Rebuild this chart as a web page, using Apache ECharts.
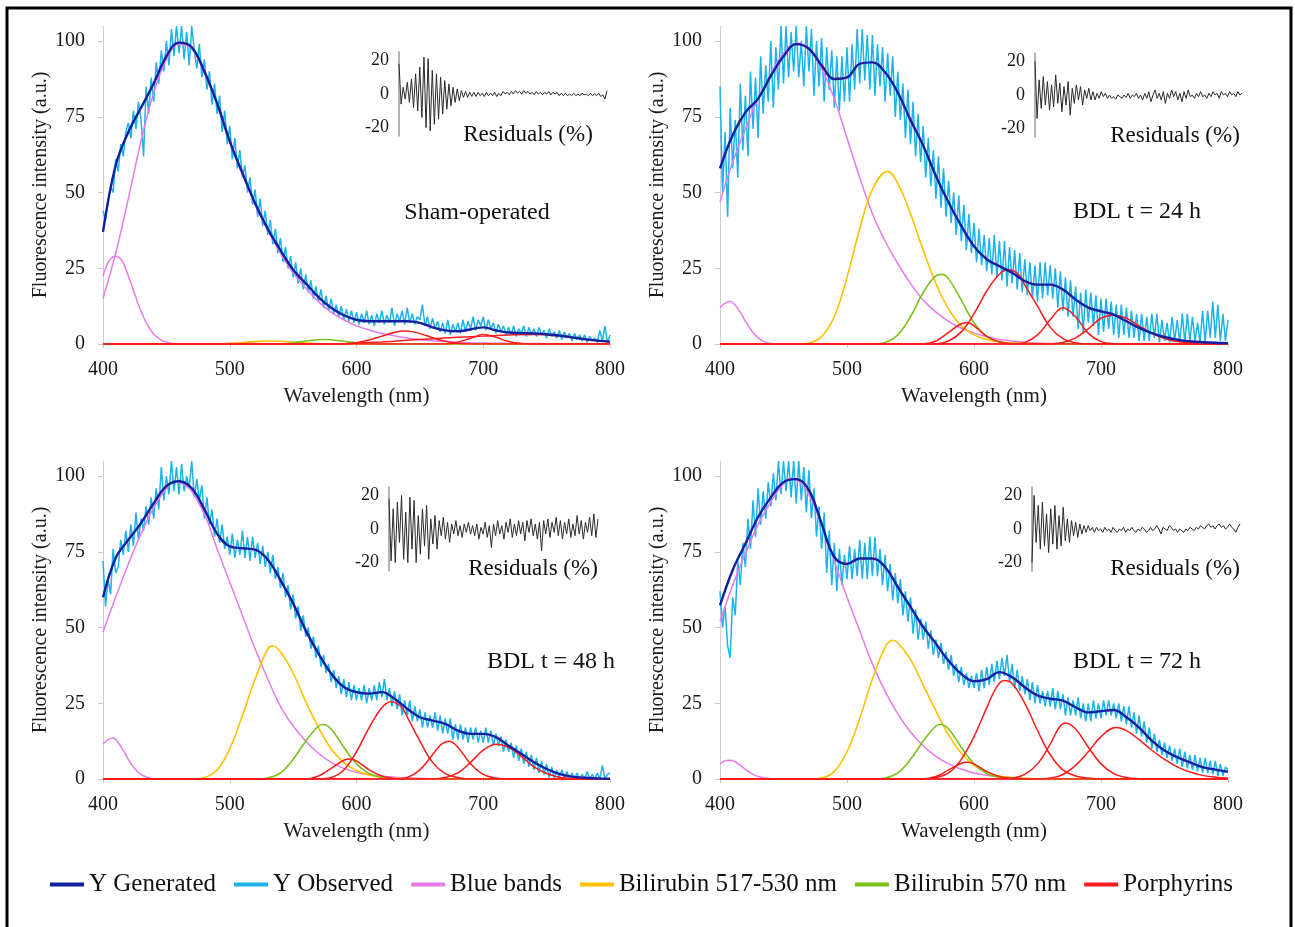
<!DOCTYPE html>
<html>
<head>
<meta charset="utf-8">
<script src="https://cdn.jsdelivr.net/npm/echarts@6/dist/echarts.min.js"></script>
<style>
  html, body { margin: 0; padding: 0; background: #fff; }
  #chart { width: 1295px; height: 927px; }
</style>
</head>
<body>
<div id="chart"></div>
<script>
// wavelength grids (nm): observed every 2 nm, residuals every 4 nm, fitted curve every 10 nm
var wl2 = [];
for (var w0 = 400; w0 <= 800; w0 += 2) wl2.push(w0);
var wl4 = [];
for (var w = 400; w <= 800; w += 4) wl4.push(w);
var wl10 = [];
for (var w2 = 400; w2 <= 800; w2 += 10) wl10.push(w2);

var panelLabels = ['Sham-operated', 'BDL t = 24 h', 'BDL t = 48 h', 'BDL t = 72 h'];
var legendNames = ['Y Generated', 'Y Observed', 'Blue bands', 'Bilirubin 517-530 nm', 'Bilirubin 570 nm', 'Porphyrins'];
var residualTicks = [-20, 0, 20];

// ---------- Sham-operated ----------
var genSham = [37,59,70,78,86,95,99.5,98,90,79.5,67,56.5,46.5,38,31,24.5,20,15.5,12,9.5,8,7.5,7.5,7.5,7.5,7,5.5,4.5,4.2,4.8,5.5,4.5,3.8,3.6,3.5,3.2,2.8,2.2,1.6,1.1,0.8];
var obsSham = [
  44,41,47,52,50,61,57,66,62,70,
  73,68,77,71,80,74,62,85,76,88,
  80,93,86,97,90,100,92,104,95,105,
  96,105,94,103,92,105,97,91,99,88,
  94,84,90,79,86,76,82,70,77,66,
  72,61,68,58,64,55,59,50,55,46,
  51,42,48,39,44,36,41,33,38,30,
  35,27,32,25,29,22,27,20,25,18,
  23,17,21,15,19,14,18,12,16,11,
  15,10,13,9,12.5,8,11.5,7.5,11,7,
  10.5,6.5,10,7,11,6.5,9.5,6,10,7,
  11,6.5,9.5,7,12,6,10,7.5,11,6.5,
  12,7,10,6.5,9,8,13,6,9,5,
  8.5,5,7.5,4,7,3.5,8,3,6.5,4,
  7,3.5,8,4,7.5,5,9,4.5,8,6,
  9,4.5,8,5,7,3.5,6.5,4,6,3,
  5.5,3,6,2.5,5,3.5,6,2.5,5.5,3,
  5,2.5,5.5,3,4.5,2,5,2.5,4,2,
  4.5,1.5,4,2,3.5,1,3.5,1.5,3,1,
  3,0.5,2.5,1,2,0.5,4.5,1,6,0.5,
  3];
var resSham = [18,-6,4,-3,7,-5,9,-8,12,-10,16,-14,22,-20,21,-22,14,-18,12,-15,10,-12,8,-9,6,-7,4,-5,3,-4,2,-2,1.5,-2,1,-1.5,1,-1.5,1,-1,0.5,-1.5,1,-1,0.5,-1,1,-1.5,0.5,-1,1.5,0,1,-0.5,1.5,0,2,0.5,1.5,0,2,0.5,1.5,0,1,-0.5,1.5,0,1,-0.5,1,0,1.5,-0.5,1,0,1,-1,0.5,-1,0.5,-1,0,-1,0.5,-1,0,-1,0.5,-0.5,0,-1,0.5,-1,0,-1,0.5,-1.5,-0.5,-3,2];
var blueSham = [
  [[400,15],[410,30],[420,48],[430,67],[440,83],[450,94],[460,99],[470,97.5],[480,89.5],[490,79],[500,66.5],[510,56],[520,46],[530,37.5],[540,30],[550,23.5],[560,18.5],[570,14],[580,10.5],[590,8],[600,6],[610,4.6],[620,3.5],[630,2.7],[640,2],[650,1.5],[660,1.1],[670,0.8],[680,0.6],[700,0.3],[720,0.2],[760,0.1],[800,0]],
  [[400,22.4],[405,27.5],[410,29],[415,27.5],[420,22.4],[425,16.5],[430,10.8],[435,6.3],[440,3.3],[445,1.5],[450,0.6],[455,0.2],[460,0],[800,0]]
];
var bili530Sham = [[400,0],[490,0],[500,0.2],[510,0.5],[520,0.8],[530,1],[540,0.9],[550,0.6],[560,0.3],[570,0.1],[580,0],[800,0]];
var bili570Sham = [[400,0],[540,0],[550,0.4],[560,1],[570,1.4],[575,1.5],[580,1.4],[590,0.9],[600,0.4],[610,0.1],[620,0],[800,0]];
var porphSham = [
  [[400,0],[590,0],[600,0.4],[610,1.3],[620,2.6],[630,3.8],[637,4.3],[645,4],[655,2.8],[665,1.4],[675,0.5],[685,0.1],[695,0],[800,0]],
  [[400,0],[670,0],[680,0.6],[690,1.9],[700,3.1],[710,2.2],[720,0.8],[730,0.2],[740,0],[800,0]],
  [[400,0],[580,0],[600,0.3],[620,0.7],[640,1.2],[660,1.7],[680,2.2],[700,2.6],[720,3],[740,3.1],[760,2.6],[780,1.6],[800,0.7]]
];

// ---------- BDL 24 h ----------
var gen24 = [58,69,76.5,81,88.5,95,99,97.5,92,87.5,88,92.5,93,89.7,83,74,65.5,55.5,46.7,39,32.3,28,25.7,23.5,20.8,19.6,19.6,18,14.7,12,10.8,9.7,7.5,5.3,3.6,2.3,1.4,0.9,0.6,0.4,0.3];
var obs24 = [
  85,50,70,42,78,58,74,55,86,64,
  82,62,90,71,88,68,95,76,92,80,
  100,78,98,84,105,86,105,88,103,90,
  105,88,100,85,105,90,104,82,100,85,
  101,80,98,84,97,78,95,77,95,80,
  98,80,99,84,104,86,104,87,102,84,
  102,82,99,85,98,80,96,82,95,75,
  90,74,86,68,84,66,80,62,76,60,
  72,55,68,52,64,48,62,45,58,42,
  54,40,50,36,49,34,46,31,43,30,
  40,27,38,26,36,24,35,23,36,22,
  34,21,34,19,32,20,31,18,30,17,
  28,16,27,15,26,14,27,15,27,16,
  26,15,25,12,24,11,22,9,21,9,
  19,5,17,4,18,7,17,6,16,3,
  15,4,15,5,14,3,13,2,13,3,
  12,2,11,2,10,1,10,1,9,1,
  10,2,10,0.5,8,1,7,0.5,9,1,
  8,0.5,10,0.5,10,1,9,1,7,0.5,
  11,0.5,11,2,14,2,13,1,10,1,
  8];
var res24 = [20,-14,9,-8,11,-6,8,-9,6,-7,12,-5,7,-10,5,-6,8,-12,4,-5,6,-3,5,-6,3,-2,4,-3,2,-3,1,-2,2,-1,1,-2,0,-2,-1,-2.5,0,-1,-2,0,-1.5,1,-2,0,-1,1,-2,0,-3,1,-2,2,-4,0,3,-2,1,-3,2,-5,1,-2,3,-1,2,-3,1,-4,2,-2,3,-1,0,-2,1,-1,2,-1,0,-2,1,-1,2,0,1,-2,2,0,1,-1,2,0,1,-1,2,0,1];
var blue24 = [
  [[400,47],[410,60],[420,71],[430,81],[440,89],[450,96],[460,99.3],[470,97.5],[480,91],[490,81],[500,68],[510,55],[520,43],[530,34],[540,26.5],[550,20],[560,14.5],[570,10.5],[580,7.5],[590,5.2],[600,3.6],[610,2.4],[620,1.5],[630,1],[640,0.6],[660,0.2],[680,0],[800,0]],
  [[400,12],[404,13.5],[408,14],[412,12.8],[416,10.5],[420,7.5],[425,4.3],[430,2],[435,0.7],[440,0.2],[450,0],[800,0]]
];
var bili530h24 = [[400,0],[460,0],[470,0.3],[480,2.5],[490,9],[500,22],[510,38],[520,51],[532,57],[540,53],[550,43],[560,31],[570,20],[580,11.5],[590,6],[600,3],[610,1.5],[620,0.7],[640,0.2],[660,0],[800,0]];
var bili570h24 = [[400,0],[520,0],[530,0.5],[540,3],[550,9],[560,17],[570,22.5],[575,23],[580,21.5],[590,14.5],[600,7],[610,2.5],[620,0.7],[630,0.1],[640,0],[800,0]];
var porph24 = [
  [[400,0],[560,0],[570,1],[580,3.8],[590,6.7],[595,7],[600,6],[610,2.5],[620,0.7],[630,0.1],[640,0],[800,0]],
  [[400,0],[570,0],[580,1],[590,4],[600,10],[610,17.5],[620,23],[627,24.6],[635,23],[640,19.5],[650,12.5],[660,5.5],[670,1.8],[680,0.4],[690,0],[800,0]],
  [[400,0],[630,0],[640,0.5],[650,3],[660,8],[670,12],[680,9],[690,3.5],[700,0.8],[710,0.1],[720,0],[800,0]],
  [[400,0],[660,0],[670,0.5],[680,2],[690,5],[700,8.5],[710,9.5],[720,8.5],[730,6],[740,3.5],[750,1.8],[760,0.8],[780,0.2],[800,0]]
];

// ---------- BDL 48 h ----------
var gen48 = [60,73,79,84.5,91,96.7,98.3,96,89,81,76.8,76.2,75.7,72.4,65.7,58,49,41.4,34.8,30.4,28.7,28.2,28.7,26.5,23.2,20.4,19.3,18.2,16,14.9,14.9,13.8,11,8.3,5.5,3.3,1.7,0.8,0.4,0.2,0.1];
var obs48 = [
  72,57,66,61,76,68,70,79,74,82,
  75,84,77,88,79,86,82,90,84,93,
  86,96,89,103,92,100,94,105,95,103,
  94,104,95,100,96,105,93,99,92,97,
  86,93,84,89,80,86,78,84,76,80,
  74,81,73,79,74,82,73,80,72,80,
  73,78,71,77,70,75,68,74,66,70,
  63,68,60,64,56,61,53,57,49,54,
  47,50,43,47,40,44,37,41,35,38,
  32,36,30,34,28,33,27,32,26,31,
  26,30,26,31,25,30,26,31,26,32,
  27,33,26,30,24,29,23,28,21,26,
  21,26,19,24,19,23,17,22,17,21,
  17,22,16,21,15,20,15,20,13,18,
  13,18,13,17,12,17,13,17,12,16,
  12,17,12,16,11,15,11,14,9,13,
  9,12,7,11,6,10,5,9,4,8,
  3,7,2,6,1.5,5,0.5,4,0,3,
  0.5,3,0,2.5,0,2,0,2,0,1.5,
  0,2.5,0,1.5,0,2,0,4.5,0,1.5,
  2];
var res48 = [18,-19,12,-20,16,-8,20,-18,10,-20,19,-12,17,-20,8,-15,12,-10,14,-18,6,-9,8,-12,5,-4,7,-6,4,-8,3,-3,5,-4,2,-5,3,-2,4,-3,2,-4,3,-6,1,-3,4,-5,2,-11,3,-4,5,-3,2,-6,4,-2,6,-5,3,-4,5,-3,4,-7,5,-2,6,-4,3,-6,4,-13,5,-3,6,-5,4,-2,7,-4,5,-6,4,-3,6,-5,3,-4,8,-3,5,-6,4,-2,7,-4,9,-5,6];
var blue48 = [
  [[400,48.5],[410,60],[420,71],[430,81],[440,89.5],[450,96],[457,98.2],[465,97],[470,95],[480,87.5],[490,76],[500,65],[510,54],[520,43],[530,33],[540,24],[550,17.5],[560,12.5],[570,8.5],[580,5.5],[590,3.5],[600,2.2],[610,1.4],[620,0.9],[640,0.3],[660,0.1],[680,0],[800,0]],
  [[400,11.5],[404,13],[408,13.5],[412,12],[416,9.5],[420,6.5],[425,3.5],[430,1.5],[435,0.5],[440,0.1],[450,0],[800,0]]
];
var bili530h48 = [[400,0],[470,0],[480,0.5],[490,3],[500,10],[510,21],[520,33],[530,43],[534,44],[540,42],[550,35],[560,25.5],[570,17],[580,10],[590,5.5],[600,2.8],[610,1.3],[620,0.6],[640,0.1],[660,0],[800,0]];
var bili570h48 = [[400,0],[520,0],[530,0.3],[540,2],[550,6.5],[560,12.5],[570,17.5],[574,18],[580,16.5],[590,10.5],[600,5],[610,1.8],[620,0.5],[630,0.1],[640,0],[800,0]];
var porph48 = [
  [[400,0],[560,0],[570,1],[580,3.5],[590,6.2],[595,6.6],[600,6],[610,3],[620,1],[630,0.2],[640,0],[800,0]],
  [[400,0],[570,0],[580,0.5],[590,3],[600,9],[610,17],[620,23.5],[627,25.5],[635,24],[640,20.5],[650,12.5],[660,5.5],[670,1.8],[680,0.5],[690,0],[800,0]],
  [[400,0],[630,0],[640,0.5],[650,3],[660,8],[667,11.5],[673,12.5],[680,10.5],[690,5],[700,1.5],[710,0.3],[720,0],[800,0]],
  [[400,0],[660,0],[670,0.5],[680,2],[690,5.5],[700,9.5],[710,11.5],[720,10.5],[730,7.5],[740,4],[750,1.8],[760,0.6],[770,0.2],[780,0],[800,0]]
];

// ---------- BDL 72 h ----------
var gen72 = [57.3,69,77.7,86.5,93,98,99,95.4,84.3,73.3,71,72.8,72.8,70,63.4,56.8,50.2,44.7,39,34.7,32.3,33,35.3,33.6,30.3,27.6,26.5,25.9,23.7,22,22.4,22.8,20.4,17,12.7,9.4,7.2,5.5,3.9,3.1,2.4];
var obs72 = [
  62,50,57,44,40,60,54,72,64,78,
  70,86,76,92,80,96,84,95,86,98,
  90,101,92,105,94,105,95,105,93,105,
  91,105,92,103,88,102,86,96,80,90,
  76,88,68,82,64,78,62,76,64,74,
  66,77,66,76,67,79,66,78,66,80,
  67,80,67,76,64,74,62,71,59,68,
  58,66,54,62,52,60,48,56,46,53,
  46,52,43,49,41,46,40,45,38,42,
  36,41,34,38,32,37,31,35,30,34,
  30,35,29,36,30,37,31,38,32,39,
  33,40,34,41,32,38,30,36,29,34,
  28,33,26,32,25,31,25,29,24,29,
  24,30,23,29,23,28,21,27,21,26,
  21,27,20,25,19,25,19,26,20,25,
  20,26,21,26,21,25,20,25,19,24,
  18,24,17,22,15,21,14,19,12,17,
  10,15,9,13,8,12,7,11,6,10,
  5,10,4,9,3.5,8,3,8,2.5,7,
  2,7,2,6,1.5,6,1,5,1,4,
  3];
var res72 = [-20,20,-8,14,-12,16,-10,9,-14,12,-9,14,-12,8,-10,13,-7,6,-8,5,-4,4,-5,3,-3,2,-2,2,-1,1,-2,1,-1,0,-2,1,-1,0,-2,1,-1,-2,0,-1,1,-2,0,-1,1,-1,-2,0,-1,1,0,-2,-1,1,-1,0,2,0,-3,1,0,-1,2,1,-1,0,-2,0,-1,-2,0,-1,1,0,-1,1,0,2,1,0,2,3,1,2,0,2,3,1,2,0,1,3,1,0,-2,1,3];
var blue72 = [
  [[400,52],[410,64],[420,74.5],[430,84],[440,91.5],[450,97.5],[456,99.3],[460,99],[470,94],[480,84],[490,72],[500,60],[510,49],[520,38],[530,29],[540,21.5],[550,15.5],[560,11],[570,7.5],[580,5],[590,3.2],[600,2],[610,1.2],[620,0.7],[640,0.2],[660,0],[800,0]],
  [[400,5],[404,6],[408,6.2],[412,5.7],[416,4.5],[420,3.2],[425,1.8],[430,0.8],[435,0.3],[440,0.1],[450,0],[800,0]]
];
var bili530h72 = [[400,0],[470,0],[480,0.3],[490,2.5],[500,9],[510,20],[520,33],[530,43.5],[536,45.8],[540,45],[550,39.5],[560,31],[570,22.5],[580,14.5],[590,8.5],[600,4.5],[610,2.2],[620,1],[640,0.2],[660,0],[800,0]];
var bili570h72 = [[400,0],[520,0],[530,0.3],[540,2],[550,6.5],[560,12.5],[570,17.5],[574,18],[580,16.5],[590,10.5],[600,5],[610,1.8],[620,0.5],[630,0.1],[640,0],[800,0]];
var porph72 = [
  [[400,0],[560,0],[570,0.8],[580,3],[590,5.2],[594,5.5],[600,5],[610,2.5],[620,0.8],[630,0.2],[640,0],[800,0]],
  [[400,0],[560,0],[570,0.5],[580,2],[590,6.5],[600,14],[610,23.5],[618,30.5],[624,32.5],[630,31.5],[640,25],[650,16],[660,8],[670,3],[680,1],[690,0.3],[700,0],[800,0]],
  [[400,0],[620,0],[630,0.3],[640,1.5],[650,5],[660,11.5],[667,17],[672,18.5],[680,16.5],[690,10.5],[700,5],[710,1.8],[720,0.5],[730,0.1],[740,0],[800,0]],
  [[400,0],[650,0],[660,0.3],[670,1.5],[680,4.5],[690,9],[700,14],[712,17],[720,16],[730,13],[740,9.5],[750,6.5],[760,4],[770,2.3],[780,1.2],[790,0.6],[800,0.3]]
];

// colours
var cGen = '#1020a0', cObs = '#1cb2ea', cBlue = '#e57be9', cB530 = '#ffc000', cB570 = '#7bc11e', cPor = '#ff1a1a';
var FONT = "'Liberation Serif', serif";

var panels = [
  { gen: genSham, obs: obsSham, res: resSham, blue: blueSham, b530: bili530Sham, b570: bili570Sham, por: porphSham },
  { gen: gen24, obs: obs24, res: res24, blue: blue24, b530: bili530h24, b570: bili570h24, por: porph24 },
  { gen: gen48, obs: obs48, res: res48, blue: blue48, b530: bili530h48, b570: bili570h48, por: porph48 },
  { gen: gen72, obs: obs72, res: res72, blue: blue72, b530: bili530h72, b570: bili570h72, por: porph72 }
];

// layout of the 4 main plots and 4 residual insets
var mainBoxes = [
  { left: 103, top: 26, width: 507, height: 318 },
  { left: 720, top: 26, width: 508, height: 318 },
  { left: 103, top: 461, width: 507, height: 318 },
  { left: 720, top: 461, width: 508, height: 318 }
];
var insetBoxes = [
  { left: 399, top: 52, width: 208, height: 84 },
  { left: 1035, top: 53, width: 207, height: 84 },
  { left: 389, top: 487, width: 209, height: 84 },
  { left: 1032, top: 487, width: 208, height: 84 }
];
var labelPos = [[477, 213], [1137, 212], [551, 662], [1137, 662]];
var resLabelPos = [[528, 135], [1175, 136], [533, 569], [1175, 569]];

var grid = [], xAxis = [], yAxis = [], series = [], graphic = [];

function zip(xs, ys) {
  return ys.map(function (v, i) { return [xs[i], v]; });
}
function line(name, data, color, width, idx, z, smooth) {
  return {
    name: name, type: 'line', data: data, xAxisIndex: idx, yAxisIndex: idx,
    showSymbol: false, symbol: 'none', smooth: smooth, z: z, silent: true,
    lineStyle: { color: color, width: width }, itemStyle: { color: color }
  };
}

mainBoxes.forEach(function (b, i) {
  grid.push(b);
  xAxis.push({
    type: 'value', gridIndex: i, min: 400, max: 800, interval: 100,
    name: 'Wavelength (nm)', nameLocation: 'middle', nameGap: 42,
    nameTextStyle: { fontFamily: FONT, fontSize: 21, color: '#1a1a1a' },
    axisLine: { show: true, lineStyle: { color: '#d0d0d0', width: 1 } },
    axisTick: { show: true, length: 4, lineStyle: { color: '#c8c8c8' } },
    axisLabel: { fontFamily: FONT, fontSize: 20, color: '#1a1a1a', margin: 16 },
    splitLine: { show: false }
  });
  yAxis.push({
    type: 'value', gridIndex: i, min: 0, max: 105, interval: 25,
    name: 'Fluorescence intensity (a.u.)', nameLocation: 'middle', nameGap: 51, nameRotate: 90,
    nameTextStyle: { fontFamily: FONT, fontSize: 20, color: '#1a1a1a' },
    axisLine: { show: true, lineStyle: { color: '#d0d0d0', width: 1 } },
    axisTick: { show: true, length: 5, lineStyle: { color: '#c8c8c8' } },
    axisLabel: { fontFamily: FONT, fontSize: 20, color: '#1a1a1a', margin: 18, showMaxLabel: false },
    splitLine: { show: false }
  });
});

insetBoxes.forEach(function (b, i) {
  grid.push(b);
  xAxis.push({
    type: 'value', gridIndex: 4 + i, min: 400, max: 800, show: false
  });
  yAxis.push({
    type: 'value', gridIndex: 4 + i, min: -25, max: 25, interval: 5,
    axisLine: { show: true, lineStyle: { color: '#999', width: 1.5 } },
    axisTick: { show: false },
    splitLine: { show: false },
    axisLabel: {
      fontFamily: FONT, fontSize: 18, color: '#1a1a1a', margin: 10,
      formatter: function (v) { return residualTicks.indexOf(v) >= 0 ? String(v) : ''; }
    }
  });
});

panels.forEach(function (p, i) {
  series.push(line('Y Observed', zip(wl2, p.obs), cObs, 1.5, i, 2, false));
  p.blue.forEach(function (d) { series.push(line('Blue bands', d, cBlue, 1.5, i, 3, 0.4)); });
  series.push(line('Bilirubin 517-530 nm', p.b530, cB530, 1.6, i, 3, 0.4));
  series.push(line('Bilirubin 570 nm', p.b570, cB570, 1.6, i, 3, 0.4));
  p.por.forEach(function (d) { series.push(line('Porphyrins', d, cPor, 1.5, i, 3, 0.4)); });
  series.push(line('Y Generated', zip(wl10, p.gen), cGen, 2.4, i, 4, 0.4));
  series.push(line('residuals', zip(wl4, p.res), '#2a2a2a', 1, 4 + i, 3, false));

  graphic.push({
    type: 'text', x: labelPos[i][0], y: labelPos[i][1], silent: true,
    style: { text: panelLabels[i], font: '24px ' + FONT, fill: '#111', textAlign: 'center', textVerticalAlign: 'middle', align: 'center', verticalAlign: 'middle' }
  });
  graphic.push({
    type: 'text', x: resLabelPos[i][0], y: resLabelPos[i][1], silent: true,
    style: { text: 'Residuals (%)', font: '23px ' + FONT, fill: '#111', textAlign: 'center', textVerticalAlign: 'middle', align: 'center', verticalAlign: 'middle' }
  });
});

// outer frame
graphic.push({
  type: 'rect', silent: true, z: 100,
  shape: { x: 7, y: 8, width: 1284, height: 940 },
  style: { fill: 'none', stroke: '#000', lineWidth: 3 }
});

var option = {
  backgroundColor: '#fff',
  animation: false,
  grid: grid,
  xAxis: xAxis,
  yAxis: yAxis,
  legend: {
    data: legendNames,
    left: 45, top: 867,
    icon: 'rect', itemWidth: 34, itemHeight: 4, itemGap: 18,
    textStyle: { fontFamily: FONT, fontSize: 25, color: '#111' },
    selectedMode: false
  },
  graphic: graphic,
  series: series
};

var myChart = echarts.init(document.getElementById('chart'));
myChart.setOption(option);
</script>
</body>
</html>
